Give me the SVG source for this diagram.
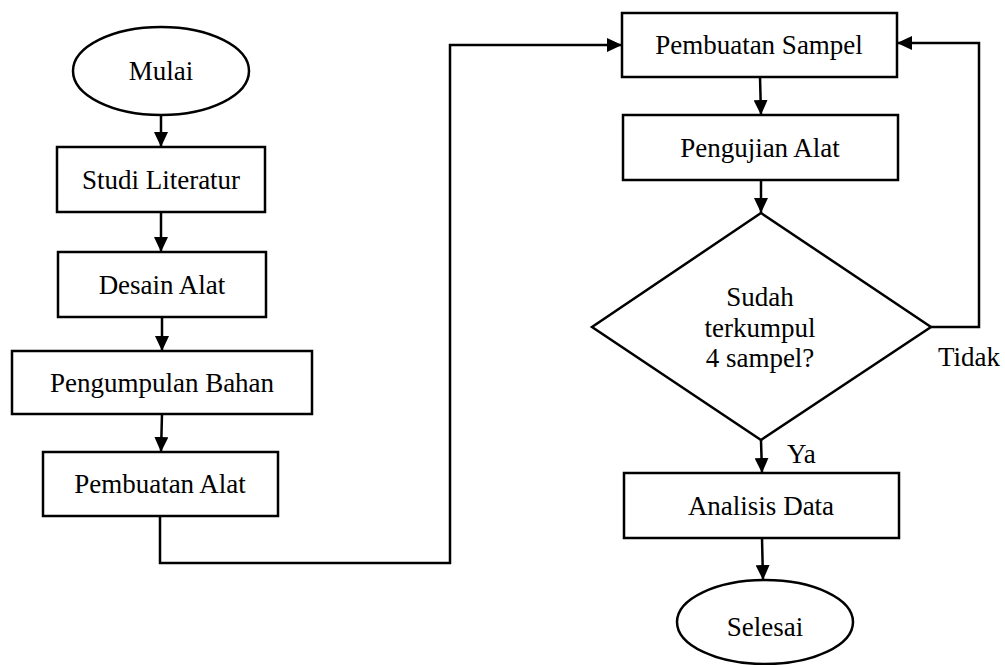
<svg xmlns="http://www.w3.org/2000/svg" width="1005" height="665" viewBox="0 0 1005 665">
<style>
.shape{fill:#fff;stroke:#000;stroke-width:2.5}
.conn{fill:none;stroke:#000;stroke-width:2.5;marker-end:url(#arr)}
text{font-family:"Liberation Serif","Times New Roman",serif;font-size:27px;fill:#000}
.c{text-anchor:middle}
</style>
<defs>
<marker id="arr" markerUnits="userSpaceOnUse" markerWidth="16" markerHeight="14" refX="15" refY="7" orient="auto">
<path d="M0,0 L15,7 L0,14 z" fill="#000"/>
</marker>
</defs>
<rect width="1005" height="665" fill="#fff"/>
<g id="connectors">
<path class="conn" d="M161,115 L161,147"/>
<path class="conn" d="M161,212 L161,252"/>
<path class="conn" d="M162,317 L162,351"/>
<path class="conn" d="M162,414 L161,452"/>
<path class="conn" d="M160,516 L160,563 L450,563 L450,45 L622,45"/>
<path class="conn" d="M760,77 L761,115"/>
<path class="conn" d="M761,180 L761,213"/>
<path class="conn" d="M931,327 L979,327 L979,43 L897,43"/>
<path class="conn" d="M761,440 L762,473"/>
<path class="conn" d="M762,538 L763,580"/>
<text x="938" y="366" font-family="Liberation Serif, serif">Tidak</text>
<text x="787" y="463" font-family="Liberation Serif, serif">Ya</text>
</g>
<g id="mulai">
<ellipse class="shape" cx="161" cy="71" rx="88" ry="44"/>
<text class="c" x="161" y="80">Mulai</text>
</g>
<g id="studi-literatur">
<rect class="shape" x="57" y="147" width="208" height="65"/>
<text class="c" x="161" y="189">Studi Literatur</text>
</g>
<g id="desain-alat">
<rect class="shape" x="58" y="252" width="208" height="65"/>
<text class="c" x="162" y="294">Desain Alat</text>
</g>
<g id="pengumpulan-bahan">
<rect class="shape" x="12" y="351" width="300" height="63"/>
<text class="c" x="162" y="392">Pengumpulan Bahan</text>
</g>
<g id="pembuatan-alat">
<rect class="shape" x="43" y="452" width="235" height="64"/>
<text class="c" x="160" y="493">Pembuatan Alat</text>
</g>
<g id="pembuatan-sampel">
<rect class="shape" x="622" y="13" width="275" height="64"/>
<text class="c" x="759" y="54">Pembuatan Sampel</text>
</g>
<g id="pengujian-alat">
<rect class="shape" x="623" y="115" width="275" height="65"/>
<text class="c" x="760" y="157">Pengujian Alat</text>
</g>
<g id="keputusan">
<polygon class="shape" points="761,213 931,327 761,440 592,327"/>
<text class="c" x="760" y="306">Sudah</text>
<text class="c" x="760" y="337">terkumpul</text>
<text class="c" x="760" y="367">4 sampel?</text>
</g>
<g id="analisis-data">
<rect class="shape" x="624" y="473" width="275" height="65"/>
<text class="c" x="761" y="515">Analisis Data</text>
</g>
<g id="selesai">
<ellipse class="shape" cx="765" cy="622" rx="88" ry="42"/>
<text class="c" x="765" y="636">Selesai</text>
</g>
</svg>
